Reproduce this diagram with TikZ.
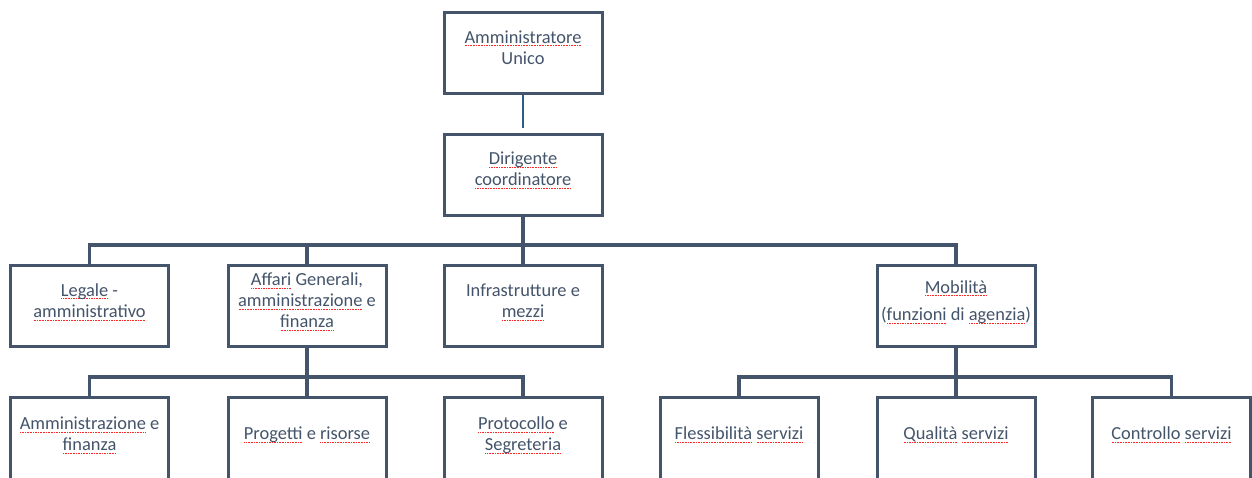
\documentclass[tikz,border=0pt]{standalone}
\usepackage{fontspec}
\setmainfont{Carlito}
\usepackage{tikz}
\usetikzlibrary{positioning}
\definecolor{slate}{HTML}{44546A}
\definecolor{linkblue}{HTML}{2F5C8A}
% red spell-check marks under words
\newcommand\sq[1]{\setbox0\hbox{#1}\leavevmode\rlap{\color{red!85}\hbox to\wd0{\xleaders\hbox to 0.8pt{\hss\vrule height -1.2pt depth 1.55pt width 0.45pt\hss}\hfill}}\box0\relax}
% box text, set a little above the middle
\newcommand\txt[2][1.8pt]{\raisebox{#1}[\height][\depth]{\begin{tabular}{@{}c@{}}#2\end{tabular}}}

\begin{document}
\begin{tikzpicture}[x=0.5pt,y=-0.5pt,
  unit/.style={draw=slate,line width=1.5pt,fill=white,minimum width=79pt,minimum height=40.5pt,inner sep=0pt,text=slate,font=\fontsize{9.2pt}{10.6pt}\selectfont},
  unitcut/.style={unit,minimum height=48pt},
  link/.style={draw=slate,line width=1.6pt},
  toplink/.style={draw=linkblue,line width=1pt}]
  \useasboundingbox (0,0) rectangle (1252,477);
  \clip (0,0) rectangle (1252,477);

  \coordinate (b1) at (523,245);
  \coordinate (b2) at (307,377);
  \coordinate (b3) at (956,377);

  \node[unit] (au) at (523,53) {\txt{\sq{Amministratore}\\Unico}};
  \node[unit] (dc) at (523,174.5) {\txt{\sq{Dirigente}\\\sq{coordinatore}}};

  \node[unit] (lg) at (89.5,306) {\txt{\sq{Legale} -\\\sq{amministrativo}}};
  \node[unit] (ag) at (307,306) {\txt{\sq{Affari} Generali,\\\sq{amministrazione} e\\\sq{finanza}}};
  \node[unit] (im) at (523,306) {\txt{Infrastrutture e\\\sq{mezzi}}};
  \node[unit] (mb) at (956,306) {\txt{\sq{Mobilità}\\[3pt](\sq{funzioni} di \sq{agenzia})}};

  % bottom row runs off the page
  \node[unitcut] (af) at (89.5,445.5) {\txt[5pt]{\sq{Amministrazione} e\\\sq{finanza}}};
  \node[unitcut] (pr) at (307,445.5) {\txt[5pt]{\sq{Progetti} e \sq{risorse}}};
  \node[unitcut] (ps) at (523,445.5) {\txt[5pt]{\sq{Protocollo} e\\\sq{Segreteria}}};
  \node[unitcut] (fs) at (739,445.5) {\txt[5pt]{\sq{Flessibilità} \sq{servizi}}};
  \node[unitcut] (qs) at (956,445.5) {\txt[5pt]{\sq{Qualità} \sq{servizi}}};
  \node[unitcut] (cs) at (1171.5,445.5) {\txt[5pt]{\sq{Controllo} \sq{servizi}}};

  \draw[toplink,shorten >=2.5pt] (au.south) -- (dc.north);
  \draw[link] (dc.south) -- (b1);
  \foreach \n in {lg,ag,im,mb}
    \draw[link] (\n.north) |- (b1);
  \draw[link] (ag.south) -- (b2);
  \foreach \n in {af,pr,ps}
    \draw[link] (\n.north) |- (b2);
  \draw[link] (mb.south) -- (b3);
  \foreach \n in {fs,qs,cs}
    \draw[link] (\n.north) |- (b3);
\end{tikzpicture}
\end{document}
